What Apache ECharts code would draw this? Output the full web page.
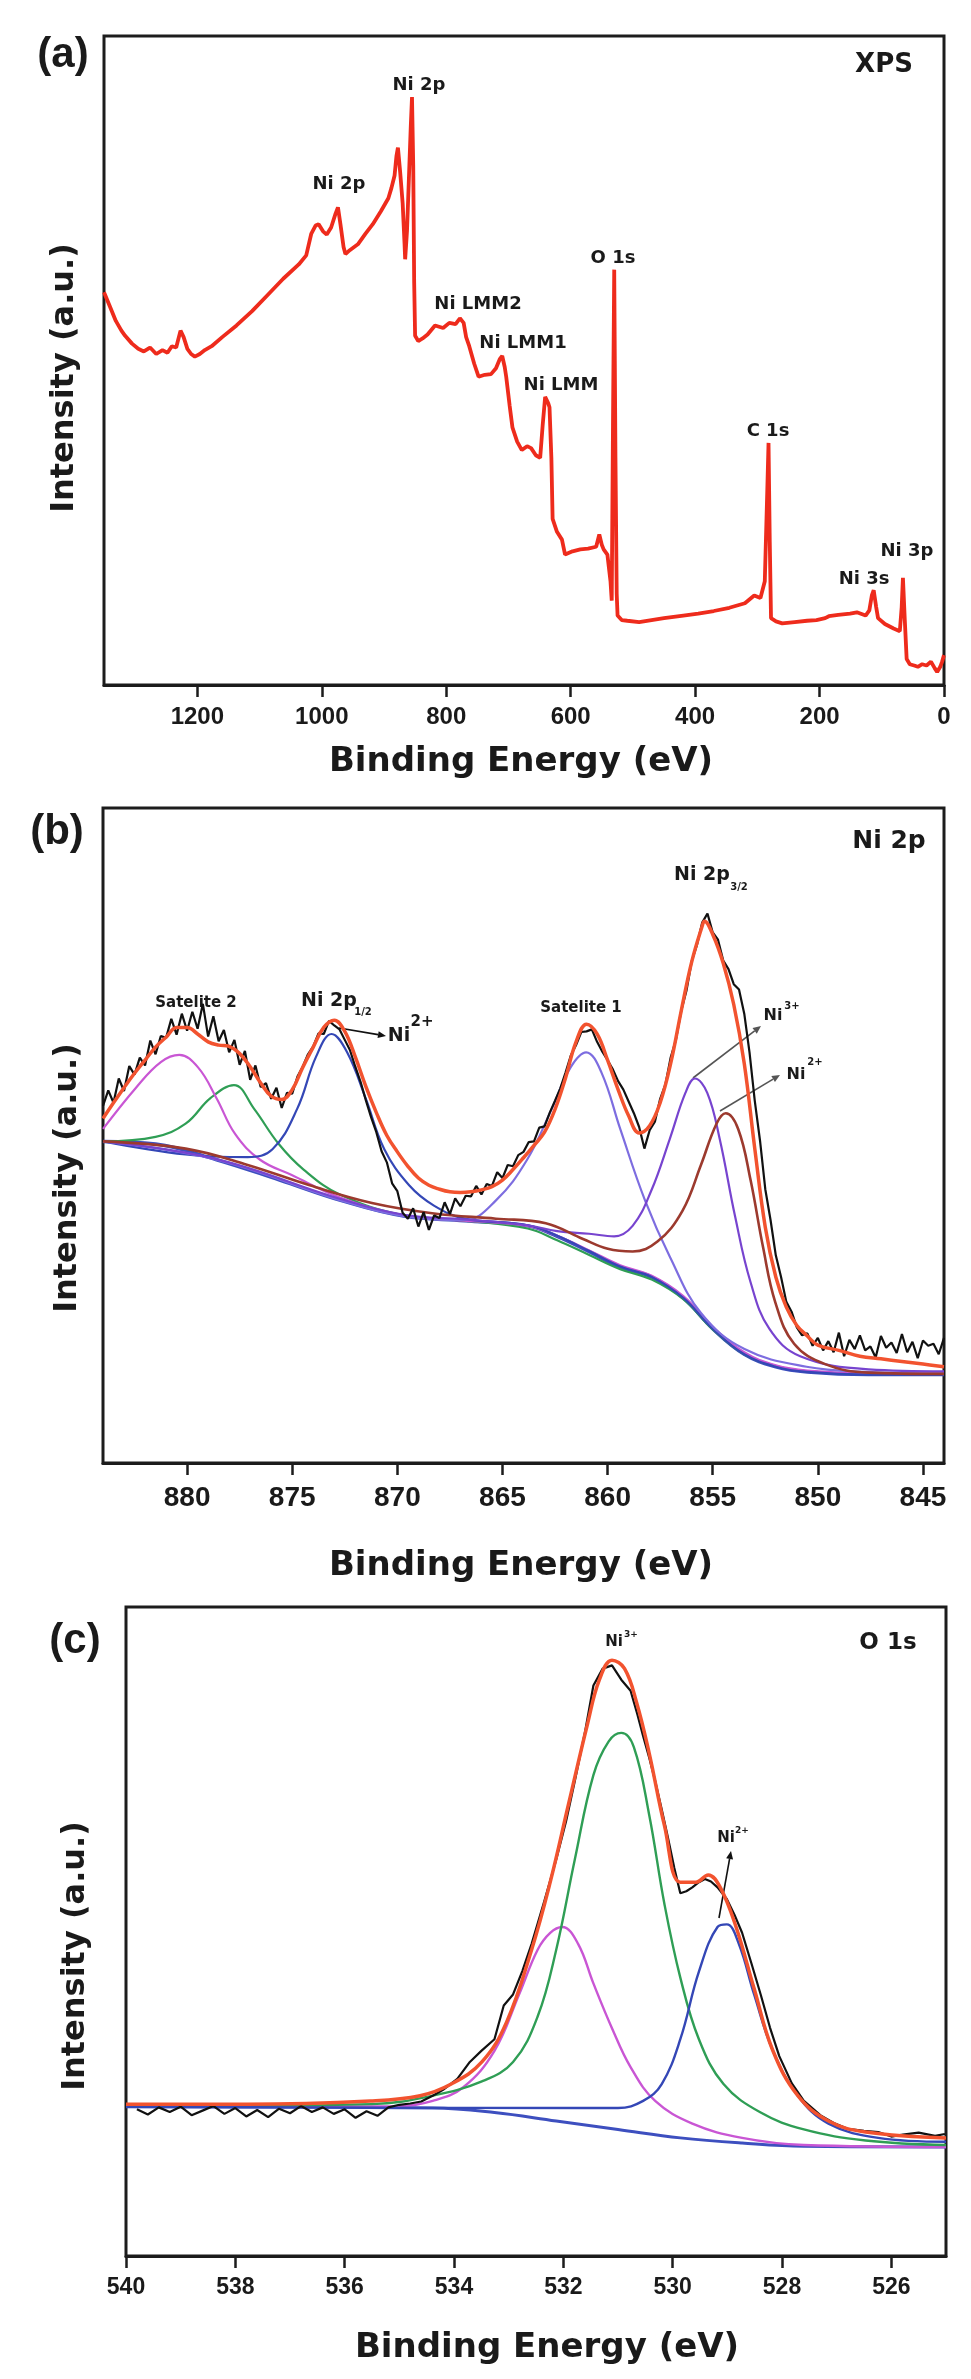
<!DOCTYPE html>
<html>
<head>
<meta charset="utf-8">
<script src="https://cdn.jsdelivr.net/npm/echarts@6/dist/echarts.min.js"></script>
<style>
  html, body { margin: 0; padding: 0; background: #fff; }
  #chart { width: 971px; height: 2379px; }
</style>
</head>
<body>
<div id="chart"></div>
<script>
// ---- tick labels ----
const surveyTicks = [0, 200, 400, 600, 800, 1000, 1200];
const ni2pTicks = [845, 850, 855, 860, 865, 870, 875, 880];
const o1sTicks = [526, 528, 530, 532, 534, 536, 538, 540];

// ---- (a) survey spectrum: [binding energy, intensity] ----
const surveySpectrum = [
  [1350, 60.5], [1340, 58.2], [1331, 56.1], [1322, 54.6], [1316, 53.8], [1305, 52.6], [1295, 51.8],
  [1286, 51.4], [1276, 52.0], [1266, 51.0], [1256, 51.6], [1248, 51.2], [1241, 52.2], [1234, 52.0],
  [1227, 54.6], [1222, 53.6], [1216, 51.8], [1210, 51.0], [1204, 50.6], [1196, 51.0], [1188, 51.6],
  [1177, 52.2], [1160, 53.6], [1137, 55.4], [1112, 57.6], [1087, 60.1], [1062, 62.6], [1037, 64.8],
  [1025, 66.2], [1017, 69.5], [1010, 70.8], [1005, 71.0], [998, 69.9], [992, 69.4], [985, 70.5],
  [978, 72.6], [974, 73.6], [970, 71.0], [965, 67.5], [962, 66.4], [955, 67.0], [942, 67.9],
  [930, 69.5], [918, 71.0], [905, 73.0], [893, 75.0], [888, 76.6], [883, 78.5], [880, 81.5],
  [877.6, 82.8], [874, 79.0], [870, 74.2], [867, 68.0], [866, 65.6], [863, 70.0], [860, 78.0],
  [857, 86.0], [855, 90.6], [853, 80.0], [851.5, 62.0], [850, 53.8], [845, 53.0], [838, 53.4],
  [830, 54.0], [818, 55.4], [805, 55.0], [795, 55.8], [785, 55.6], [778, 56.5], [772, 55.8],
  [768, 53.6], [763, 52.2], [755, 49.5], [748, 47.5], [738, 47.8], [728, 47.9], [720, 48.8],
  [714, 50.2], [710, 50.7], [706, 49.0], [703.6, 47.5], [698, 43.0], [693.6, 39.7], [686, 37.5],
  [678.5, 36.2], [670, 36.8], [663.6, 36.5], [656, 35.4], [649, 35.0], [645, 40.0], [641, 44.4],
  [636, 43.4], [634, 42.8], [631, 35.0], [629, 25.6], [622, 23.6], [614, 22.4], [609, 20.1],
  [597, 20.6], [584.5, 20.9], [572, 21.0], [559, 21.3], [554, 23.2], [550, 21.6], [547, 20.9],
  [541, 20.1], [536, 16.0], [534, 13.0], [532, 40.0], [530, 64.0], [528, 35.0], [526, 14.0],
  [524.6, 10.7], [518, 10.0], [509, 9.9], [490, 9.7], [470, 10.0], [450, 10.3], [419, 10.7],
  [395, 11.0], [370, 11.4], [345, 11.9], [320, 12.6], [305, 13.8], [300, 13.6], [295, 13.4],
  [288, 16.0], [284, 30.0], [282, 37.3], [280, 22.0], [278, 10.3], [270, 9.8], [260, 9.5],
  [240, 9.7], [220, 9.9], [205, 10.0], [191, 10.3], [185, 10.6], [170, 10.8], [151, 11.0],
  [140, 11.2], [126, 10.7], [120, 11.5], [116, 13.8], [113, 14.6], [109, 12.0], [106, 10.3],
  [95, 9.4], [81, 8.7], [71, 8.3], [68, 12.0], [66, 16.5], [63, 10.0], [60, 4.0], [55, 3.2],
  [48, 3.0], [42, 2.8], [35, 3.2], [28, 3.0], [21, 3.6], [15, 2.6], [11, 2.0], [6, 2.8],
  [3, 3.6], [0, 4.6]
];

// ---- (b) Ni 2p ----
const ni2pRaw = [
  [884.00,54.5],[883.75,56.9],[883.50,55.0],[883.25,58.7],[883.00,56.8],[882.75,60.6],[882.50,59.3],
  [882.25,61.9],[882.00,60.7],[881.75,64.5],[881.50,62.4],[881.25,65.2],[881.00,64.9],[880.75,67.8],
  [880.50,65.4],[880.25,68.6],[880.00,66.0],[879.75,68.9],[879.50,66.3],[879.25,70.1],[879.00,65.1],
  [878.75,68.2],[878.50,64.4],[878.25,66.1],[878.00,62.7],[877.75,64.6],[877.50,60.8],[877.25,62.9],
  [877.00,58.5],[876.75,60.7],[876.50,57.4],[876.25,58.0],[876.00,55.6],[875.75,57.3],[875.50,54.2],
  [875.25,56.5],[875.00,56.4],[874.75,59.0],[874.50,60.5],[874.25,62.4],[874.00,63.6],[873.75,65.6],
  [873.50,65.5],[873.25,67.5],[873.00,66.8],[872.75,66.2],[872.50,64.6],[872.25,63.0],[872.00,60.5],
  [871.75,58.2],[871.50,55.4],[871.25,52.8],[871.00,50.5],[870.75,47.6],[870.50,45.9],[870.25,42.7],
  [870.00,41.5],[869.75,38.2],[869.50,37.3],[869.25,38.9],[869.00,36.1],[868.75,38.3],[868.50,35.6],
  [868.25,37.8],[868.00,37.4],[867.75,39.8],[867.50,38.0],[867.25,40.4],[867.00,39.2],[866.75,40.8],
  [866.50,40.7],[866.25,42.3],[866.00,41.0],[865.75,42.6],[865.50,42.3],[865.25,44.4],[865.00,43.5],
  [864.75,45.5],[864.50,45.3],[864.25,47.0],[864.00,47.5],[863.75,49.0],[863.50,49.1],[863.25,51.2],
  [863.00,51.4],[862.75,53.5],[862.50,55.3],[862.25,57.2],[862.00,59.6],[861.75,62.2],[861.50,63.8],
  [861.25,65.8],[861.00,65.9],[860.75,66.2],[860.50,64.3],[860.25,62.8],[860.00,61.5],[859.75,60.1],
  [859.50,58.3],[859.25,57.0],[859.00,55.2],[858.75,53.4],[858.50,51.3],[858.25,48.0],[858.00,50.8],
  [857.75,52.1],[857.50,55.6],[857.25,57.8],[857.00,61.9],[856.75,64.6],[856.50,69.0],[856.25,72.1],
  [856.00,76.6],[855.75,79.1],[855.50,82.5],[855.25,83.9],[855.00,81.0],[854.75,79.9],[854.50,76.7],
  [854.25,75.4],[854.00,73.1],[853.75,72.3],[853.50,68.6],[853.25,62.7],[853.00,55.3],[852.75,49.2],
  [852.50,41.8],[852.25,37.1],[852.00,31.7],[851.75,28.4],[851.50,24.6],[851.25,23.1],[851.00,20.7],
  [850.75,19.5],[850.50,19.8],[850.25,17.9],[850.00,19.1],[849.75,17.2],[849.50,18.6],[849.25,16.9],
  [849.00,19.9],[848.75,16.3],[848.50,18.8],[848.25,17.4],[848.00,19.5],[847.75,17.2],[847.50,17.8],
  [847.25,16.1],[847.00,19.4],[846.75,17.6],[846.50,18.4],[846.25,16.8],[846.00,19.7],[845.75,16.9],
  [845.50,18.5],[845.25,16.0],[845.00,18.7],[844.75,17.9],[844.50,18.2],[844.25,16.6],[844.00,19.1]
];
const ni2pEnvelope = [
  [884,52.6],[883.5,55],[883,57.3],[882.5,59.5],[882,61.5],[881.5,63.5],[881,65],[880.5,66.5],
  [880,66.5],[879.5,65.5],[879,64.3],[878.5,63.8],[878,63.6],[877.5,62.5],[877,60.5],[876.5,58],
  [876,56],[875.5,55.5],[875,57],[874.5,60.4],[874,63.5],[873.5,66.5],[873,67.6],[872.5,65.9],
  [872,62],[871.5,57.5],[871,53.5],[870.5,50],[870,47.5],[869.5,45.3],[869,43.5],[868.5,42.4],
  [868,41.8],[867.5,41.4],[867,41.3],[866.5,41.4],[866,41.7],[865.5,42.2],[865,43.2],[864.5,44.8],
  [864,46.6],[863.5,48.5],[863,50.5],[862.5,54],[862,58.8],[861.5,64.3],[861,67],[860.5,65.5],
  [860,61.5],[859.5,57],[859,53],[858.5,50.4],[858,51.5],[857.5,55],[857,61],[856.5,69],
  [856,76.5],[855.5,82],[855.4,82.7],[855,80.7],[854.5,76.3],[854,70],[853.5,61],[853,48],
  [852.5,36],[852,28.4],[851.5,23.8],[851,21],[850.5,19.4],[850,18],[849,17.2],[848,16.3],
  [847,15.9],[846,15.5],[845,15.1],[844,14.7]
];
const ni2pBackground = [
  [884,49.1],[881.5,48.7],[878.6,46.3],[875.6,43.2],[872.7,40.1],[869.7,37.7],[866.8,37.0],
  [863.8,36.2],[862.4,34.6],[860.9,32.3],[859.4,29.9],[857.9,28.4],[856.4,25.2],[855.0,20.5],
  [853.5,16.6],[852.0,14.7],[850.5,13.9],[847.6,13.5],[844,13.5]
];
const ni2pSatellite2a = [
  [884,51.0],[882.43,57.3],[881.25,61.2],[880.37,62.3],[879.48,60.4],[878.6,55.7],[877.71,50.2],
  [876.53,46.3],[875.05,44.0],[872.69,40.5],[869.7,37.8],[866.8,37.0],[863.8,36.2],[862.4,34.7],
  [860.9,32.5],[859.4,30.2],[857.9,28.6],[856.4,25.5],[855.0,20.8],[853.5,16.9],[852.0,14.9],
  [850.5,14.1],[847.6,13.7],[844,13.7]
];
const ni2pSatellite2b = [
  [884,49.1],[881.5,49.8],[880.07,51.8],[878.89,55.7],[877.77,57.7],[876.82,54.1],[875.64,48.7],
  [874.46,44.8],[872.69,40.9],[869.7,37.8],[866.8,37.0],[863.8,35.8],[862.4,34.0],[860.9,31.8],
  [859.4,29.6],[857.9,28.0],[856.4,25.0],[855.0,20.4],[853.5,16.6],[852.0,14.8],[850.5,14.0],
  [847.6,13.6],[844,13.6]
];
const ni2pHalf = [
  [884,49.1],[880.07,47.1],[877.12,46.7],[875.94,47.9],[874.76,54.1],[873.87,62.0],[873.13,65.5],
  [872.39,62.7],[871.51,55.7],[870.62,47.9],[869.44,42.4],[868.26,39.3],[866.78,37.3],[863.8,36.3],
  [862.4,34.7],[860.9,32.4],[859.4,30.0],[857.9,28.4],[856.4,25.2],[855.0,20.5],[853.5,16.6],
  [852.0,14.7],[850.5,13.9],[847.6,13.5],[844,13.5]
];
const ni2pSatellite1 = [
  [884,49.1],[878.6,46.3],[872.7,40.1],[869.7,37.7],[866.8,37.1],[865.31,40.1],[863.83,46.3],
  [862.65,54.1],[861.76,60.4],[861.02,62.7],[860.29,59.6],[859.4,51.0],[858.22,40.1],[857.04,31.5],
  [855.56,22.9],[853.49,17.4],[850.54,14.7],[847.6,13.9],[844,13.6]
];
const ni2pNi3 = [
  [884,49.1],[878.6,46.4],[872.7,40.3],[869.7,37.9],[866.8,37.2],[863.8,36.3],[862.4,35.4],
  [860.88,35.0],[859.69,34.6],[858.81,36.2],[857.92,41.6],[857.04,49.5],[856.3,56.5],[855.85,58.7],
  [855.26,56.5],[854.67,49.5],[853.94,37.7],[853.2,27.6],[852.31,20.5],[850.84,16.3],[847.59,14.3],
  [844,14.0]
];
const ni2pNi2 = [
  [884,49.1],[880.07,48.0],[877.12,45.5],[874.17,42.4],[871.21,39.7],[868.26,38.1],[865.31,37.3],
  [862.94,36.6],[861.17,34.2],[859.99,32.7],[858.81,32.3],[857.63,33.8],[856.44,38.5],[855.56,45.5],
  [854.82,51.8],[854.38,53.4],[853.79,51.0],[853.2,43.2],[852.61,33.0],[852.02,24.5],[851.13,18.2],
  [849.65,15.1],[847.6,13.8],[844,13.6]
];

// ---- (c) O 1s ----
const o1sRaw = [
  [539.8,22.6],[539.6,21.8],[539.4,22.9],[539.2,22.2],[539.0,23.0],[538.8,21.7],[538.6,22.4],
  [538.4,23.1],[538.2,21.9],[538.0,22.8],[537.8,21.5],[537.6,22.5],[537.4,21.4],[537.2,22.7],
  [537.0,22.0],[536.8,23.1],[536.6,22.2],[536.4,22.9],[536.2,21.9],[536.0,22.6],[535.8,21.3],
  [535.6,22.3],[535.4,21.6],[535.2,22.9],[535.0,23.3],[534.8,23.5],[534.6,23.8],[534.39,24.7],
  [534.2,25.6],[533.94,27.3],[533.71,29.9],[533.5,31.6],[533.26,33.4],[533.09,38.6],[532.92,40.3],
  [532.75,43.9],[532.58,48.1],[532.35,54.6],[532.13,61.1],[531.95,67.0],[531.79,73.2],[531.6,80.9],
  [531.45,87.9],[531.28,90.5],[531.11,91.0],[530.94,88.8],[530.77,87.1],[530.65,83.6],[530.54,80.1],
  [530.43,76.8],[530.32,73.2],[530.2,68.8],[530.09,64.6],[529.97,59.8],[529.86,55.9],[529.75,56.2],
  [529.64,56.8],[529.52,57.6],[529.41,58.1],[529.3,57.7],[529.18,56.8],[529.01,55.0],[528.87,52.6],
  [528.73,49.8],[528.56,45.1],[528.39,40.3],[528.22,35.2],[528.05,30.8],[527.82,26.6],[527.6,23.9],
  [527.3,21.7],[527.03,20.4],[526.8,19.6],[526.5,19.3],[526.24,19.1],[526.0,18.4],[525.79,18.7],
  [525.5,19.0],[525.2,18.5],[525.02,18.8]
];
const o1sEnvelope = [
  [540,23.4],[537.79,23.4],[535.53,23.9],[534.62,24.7],[534.05,26.5],[533.49,29.9],[533.04,36.0],
  [532.58,47.2],[532.24,57.6],[531.9,69.8],[531.56,81.9],[531.34,88.8],[531.11,91.8],[530.88,90.5],
  [530.66,85.3],[530.43,77.5],[530.15,66.3],[529.86,57.6],[529.58,57.6],[529.35,58.7],[529.13,56.8],
  [528.84,50.7],[528.51,41.2],[528.17,31.7],[527.71,24.7],[527.15,20.8],[526.47,19.1],[525,18.2]
];
const o1sBackground = [
  [540,23.0],[534.39,22.8],[533.26,22.1],[532.13,20.8],[531.0,19.5],[529.86,18.2],[528.73,17.4],
  [527.6,16.9],[525,16.8]
];
const o1sNi3 = [
  [540,23.0],[535.5,23.4],[534.39,24.7],[533.49,26.9],[532.92,29.9],[532.47,36.9],[532.13,47.2],
  [531.79,61.1],[531.45,74.1],[531.17,79.3],[530.94,80.6],[530.71,78.4],[530.43,68.0],[530.15,54.2],
  [529.86,42.9],[529.52,33.4],[529.07,26.5],[528.39,22.1],[527.6,19.5],[526.47,17.8],[525,17.1]
];
const o1sMid = [
  [540,23.0],[535.0,23.1],[534.39,23.9],[533.83,26.0],[533.26,31.6],[532.81,40.3],[532.47,47.2],
  [532.24,49.8],[532.02,50.7],[531.73,48.1],[531.45,42.0],[531.11,35.1],[530.77,29.1],[530.32,23.9],
  [529.64,20.4],[528.73,18.2],[527.6,17.1],[525,16.8]
];
const o1sNi2 = [
  [540,23.0],[531.56,22.8],[531.0,22.8],[530.54,23.9],[530.2,26.5],[529.86,33.4],[529.52,43.8],
  [529.18,50.7],[529.01,51.1],[528.79,48.1],[528.51,40.3],[528.17,31.7],[527.71,24.7],[527.15,20.4],
  [526.24,18.2],[525,17.6]
];

// ---- styling ----
const frameColor = '#1c1c1c';
const titleFont = 'bold 34px "DejaVu Sans"';
const yTitleFont = 'bold 32px "DejaVu Sans"';

const grids = [
  { left: 104, top: 36, width: 840, height: 649 },
  { left: 103, top: 808, width: 841, height: 655 },
  { left: 126, top: 1607, width: 820, height: 649 }
].map(g => Object.assign({ show: true, borderColor: frameColor, borderWidth: 3, outerBoundsMode: 'none' }, g));

function energyAxis(gridIndex, min, max, ticks, fontSize, margin) {
  return {
    type: 'value', gridIndex, min, max, inverse: true,
    axisLine: { show: true, onZero: false, lineStyle: { color: frameColor, width: 3 } },
    axisTick: { show: true, inside: false, length: 12, customValues: ticks, lineStyle: { color: frameColor, width: 2.5 } },
    axisLabel: {
      customValues: ticks, fontSize, fontWeight: 'bold', color: '#1a1a1a', fontFamily: 'Liberation Sans', margin,
      formatter: v => String(v)
    },
    splitLine: { show: false }
  };
}
function intensityAxis(gridIndex) {
  return { type: 'value', gridIndex, min: 0, max: 100, show: false };
}
function curve(idx, data, color, width, smooth) {
  return {
    type: 'line', xAxisIndex: idx, yAxisIndex: idx, data, showSymbol: false, smooth: smooth || false,
    lineStyle: { color, width }, silent: true
  };
}

const magenta = '#c956d4', green = '#2f9e55', blue = '#3447b6', slate = '#7d6de0',
  violet = '#7744cf', brown = '#9c3a2e', bgBlue = '#3d4fbf', envRed = '#f2532f';

const series = [
  curve(0, surveySpectrum, '#ee2b1c', 3.8),

  curve(1, ni2pBackground, bgBlue, 3.5, 0.4),
  curve(1, ni2pSatellite2b, green, 2.2, 0.4),
  curve(1, ni2pSatellite2a, magenta, 2.2, 0.4),
  curve(1, ni2pHalf, blue, 2.2, 0.4),
  curve(1, ni2pSatellite1, slate, 2.2, 0.4),
  curve(1, ni2pNi3, violet, 2.2, 0.4),
  curve(1, ni2pNi2, brown, 2.6, 0.4),
  curve(1, ni2pRaw, '#111', 2.2),
  curve(1, ni2pEnvelope, envRed, 3.5, 0.4),

  curve(2, o1sBackground, bgBlue, 3, 0.4),
  curve(2, o1sMid, magenta, 2.4, 0.4),
  curve(2, o1sNi3, green, 2.4, 0.4),
  curve(2, o1sNi2, blue, 2.4, 0.4),
  curve(2, o1sRaw, '#111', 2.2),
  curve(2, o1sEnvelope, envRed, 3.5, 0.4)
];

// ---- text & annotations ----
function txt(text, x, y, font, extra) {
  return Object.assign({
    type: 'text', x, y, silent: true,
    style: { text, font, fill: '#1a1a1a', textAlign: 'center', textVerticalAlign: 'middle' }
  }, extra || {});
}
function arrow(x1, y1, x2, y2, color) {
  const a = Math.atan2(y2 - y1, x2 - x1);
  const len = 8, w = 3.5;
  const bx = x2 - len * Math.cos(a), by = y2 - len * Math.sin(a);
  return [
    { type: 'line', silent: true, shape: { x1, y1, x2: bx, y2: by }, style: { stroke: color, lineWidth: 1.6 } },
    { type: 'polygon', silent: true, shape: { points: [[x2, y2],
      [bx - w * Math.sin(a), by + w * Math.cos(a)], [bx + w * Math.sin(a), by - w * Math.cos(a)]] },
      style: { fill: color } }
  ];
}

const labelFont = 'bold 18px "DejaVu Sans"';
const graphics = [
  // panel letters
  txt('(a)', 63, 55, 'bold 42px "Liberation Sans"'),
  txt('(b)', 57, 832, 'bold 42px "Liberation Sans"'),
  txt('(c)', 75, 1641, 'bold 42px "Liberation Sans"'),
  // corner tags
  txt('XPS', 884, 65, 'bold 26px "DejaVu Sans"'),
  txt('Ni 2p', 889, 841, 'bold 25px "DejaVu Sans"'),
  txt('O 1s', 888, 1643, 'bold 23px "DejaVu Sans"'),
  // axis titles
  txt('Binding Energy (eV)', 521, 762, titleFont),
  txt('Binding Energy (eV)', 521, 1566, titleFont),
  txt('Binding Energy (eV)', 547, 2348, titleFont),
  txt('Intensity (a.u.)', 65, 378, yTitleFont, { rotation: Math.PI / 2 }),
  txt('Intensity (a.u.)', 68, 1178, yTitleFont, { rotation: Math.PI / 2 }),
  txt('Intensity (a.u.)', 76, 1956, yTitleFont, { rotation: Math.PI / 2 }),
  // (a) peak labels
  txt('Ni 2p', 419, 85, labelFont),
  txt('Ni 2p', 339, 184, labelFont),
  txt('O 1s', 613, 258, labelFont),
  txt('Ni LMM2', 478, 304, labelFont),
  txt('Ni LMM1', 523, 343, labelFont),
  txt('Ni LMM', 561, 385, labelFont),
  txt('C 1s', 768, 431, labelFont),
  txt('Ni 3p', 907, 551, labelFont),
  txt('Ni 3s', 864, 579, labelFont),
  // (b) labels
  txt('Satelite 2', 196, 1003, 'bold 15px "DejaVu Sans"'),
  txt('Ni 2p', 329, 1001, 'bold 19px "DejaVu Sans"'),
  txt('1/2', 363, 1012, 'bold 10px "DejaVu Sans"'),
  txt('Ni', 399, 1036, 'bold 19px "DejaVu Sans"'),
  txt('2+', 422, 1022, 'bold 15px "DejaVu Sans"'),
  txt('Satelite 1', 581, 1008, 'bold 15px "DejaVu Sans"'),
  txt('Ni 2p', 702, 875, 'bold 19px "DejaVu Sans"'),
  txt('3/2', 739, 887, 'bold 10px "DejaVu Sans"'),
  txt('Ni', 773, 1016, 'bold 16px "DejaVu Sans"'),
  txt('3+', 792, 1006, 'bold 10px "DejaVu Sans"'),
  txt('Ni', 796, 1075, 'bold 16px "DejaVu Sans"'),
  txt('2+', 815, 1062, 'bold 10px "DejaVu Sans"'),
  // (c) labels
  txt('Ni', 614, 1642, 'bold 15px "DejaVu Sans"'),
  txt('3+', 631, 1635, 'bold 9px "DejaVu Sans"'),
  txt('Ni', 726, 1838, 'bold 15px "DejaVu Sans"'),
  txt('2+', 742, 1831, 'bold 9px "DejaVu Sans"')
].concat(
  arrow(339, 1028, 386, 1036, '#111'),
  arrow(693, 1078, 761, 1026, '#555'),
  arrow(720, 1111, 780, 1075, '#555'),
  arrow(719, 1918, 731, 1851, '#111')
);

const chart = echarts.init(document.getElementById('chart'), null, { renderer: 'canvas' });
chart.setOption({
  animation: false,
  backgroundColor: '#fff',
  grid: grids,
  xAxis: [
    energyAxis(0, 0, 1350, surveyTicks, 24, 20),
    energyAxis(1, 844, 884, ni2pTicks, 28, 21),
    energyAxis(2, 525, 540, o1sTicks, 23, 20)
  ],
  yAxis: [intensityAxis(0), intensityAxis(1), intensityAxis(2)],
  series,
  graphic: graphics
});
</script>
</body>
</html>
